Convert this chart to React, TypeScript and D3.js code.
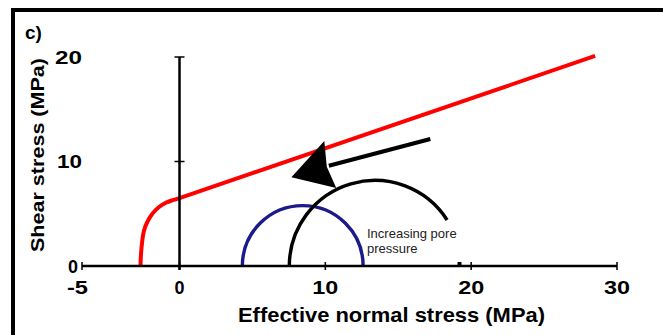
import React from "react";
import * as d3 from "d3";

const xTicks = [-5, 0, 10, 20, 30];
const yTicks = [0, 10, 20];
// failure envelope (effective normal stress, shear stress)
const envelopeX = [-2.0, -1.96, -1.82, -1.6, -1.35, -1.05, -0.7, -0.35, 0, 28.5];
const envelopeY = [0, 1.5, 3.4, 4.4, 5.1, 5.65, 6.05, 6.3, 6.5, 20.1];
// Mohr circles: centre, radius (normal stress units), end angle (deg above axis)
const circleCenters = [8.45, 13.4];
const circleRadii = [4.14, 5.87];
const circleEndDeg = [0, 32.5];
// arrow (data units)
const arrowTail = [17.2, 12.15];
const arrowNotch = [10.1, 9.5];
const arrowHead = [
  [7.67, 8.5],
  [9.93, 11.96],
  [10.1, 9.5],
  [10.75, 7.46],
];
const smallMark = [19.2, 0];

export default function App() {
  const W = 663, H = 335;
  const x = d3.scaleLinear().domain([-5, 0, 30]).range([82, 179.5, 617]);
  const y = d3.scaleLinear().domain([0, 20]).range([266, 57]);
  const font = "'Liberation Sans', Arial, Helvetica, sans-serif";

  const envPts: [number, number][] = envelopeX.map((v, i) => [x(v), y(envelopeY[i])]);
  const envPath =
    d3.line().curve(d3.curveCatmullRom.alpha(0.5))(envPts.slice(0, 9)) +
    ` L${envPts[9][0]},${envPts[9][1]}`;

  const circlePaths = circleCenters.map((c, i) => {
    const cx = x(c);
    const r = x(c + circleRadii[i]) - cx;
    const p = d3.path();
    p.moveTo(cx - r, y(0));
    p.arc(cx, y(0), r, Math.PI, 2 * Math.PI - (circleEndDeg[i] * Math.PI) / 180, false);
    return p.toString();
  });
  const colors = ["#1c1a8a", "#000"];

  const headPts = arrowHead.map((p) => `${x(p[0])},${y(p[1])}`).join(" ");

  return (
    <svg width={W} height={H} style={{ position: "absolute", left: 0, top: 0, background: "#fff" }}>
      {/* frame */}
      <line x1={13} y1={10} x2={663} y2={10} stroke="#000" strokeWidth={4} />
      <line x1={13} y1={8} x2={13} y2={335} stroke="#000" strokeWidth={4} />
      <text x={25} y={39} fontFamily={font} fontWeight="bold" fontSize={19}>c)</text>

      {/* envelope */}
      <path d={envPath} fill="none" stroke="#ff0000" strokeWidth={4} strokeLinejoin="round" />

      {/* mohr circles */}
      {circlePaths.map((d, i) => (
        <path key={i} d={d} fill="none" stroke={colors[i]} strokeWidth={3.4} />
      ))}

      {/* arrow */}
      <line x1={x(arrowTail[0])} y1={y(arrowTail[1])} x2={x(arrowNotch[0]) + 2} y2={y(arrowNotch[1]) - 1} stroke="#000" strokeWidth={4} />
      <polygon points={headPts} fill="#000" />

      {/* axes */}
      <line x1={x(-5)} y1={y(0)} x2={x(30)} y2={y(0)} stroke="#000" strokeWidth={2.5} />
      <line x1={x(0)} y1={y(20)} x2={x(0)} y2={y(0) + 4} stroke="#000" strokeWidth={2.5} />
      {xTicks.map((t) => (
        <g key={t}>
          <line x1={x(t)} x2={x(t)} y1={y(0) - 4} y2={y(0) + 4} stroke="#000" strokeWidth={1.5} />
          <text
            x={x(t) - (t < 0 ? 2 : 0) - (String(t).length === 1 ? 0 : 13)}
            y={294}
            textAnchor={String(t).length === 1 ? "middle" : "start"}
            textLength={String(t).length === 1 ? undefined : t < 0 ? 21 : 26}
            lengthAdjust="spacingAndGlyphs"
            fontFamily={font}
            fontWeight="bold"
            fontSize={18}
          >
            {t}
          </text>
        </g>
      ))}
      {yTicks.map((t) => (
        <g key={t}>
          <line x1={x(0) - 5} x2={x(0) + 5} y1={y(t)} y2={y(t)} stroke="#000" strokeWidth={1.5} />
          <text
            x={t === 0 ? 68 : t === 10 ? 57 : 55}
            y={y(t) + 6.5}
            textLength={t === 0 ? undefined : t === 10 ? 25 : 27}
            lengthAdjust="spacingAndGlyphs"
            fontFamily={font}
            fontWeight="bold"
            fontSize={18}
          >
            {t}
          </text>
        </g>
      ))}
      <rect x={x(smallMark[0]) - 2} y={y(smallMark[1]) - 4} width={4} height={4} fill="#000" />

      <text x={367} y={238} fontFamily={font} fontSize={13} fill="#222">Increasing pore</text>
      <text x={367} y={253} fontFamily={font} fontSize={13} fill="#222">pressure</text>

      <text x={238} y={322} textLength={307} lengthAdjust="spacingAndGlyphs" fontFamily={font} fontWeight="bold" fontSize={21}>Effective normal stress (MPa)</text>
      <text transform="translate(44,252) rotate(-90)" textLength={194} lengthAdjust="spacingAndGlyphs" fontFamily={font} fontWeight="bold" fontSize={19}>Shear stress (MPa)</text>
    </svg>
  );
}
